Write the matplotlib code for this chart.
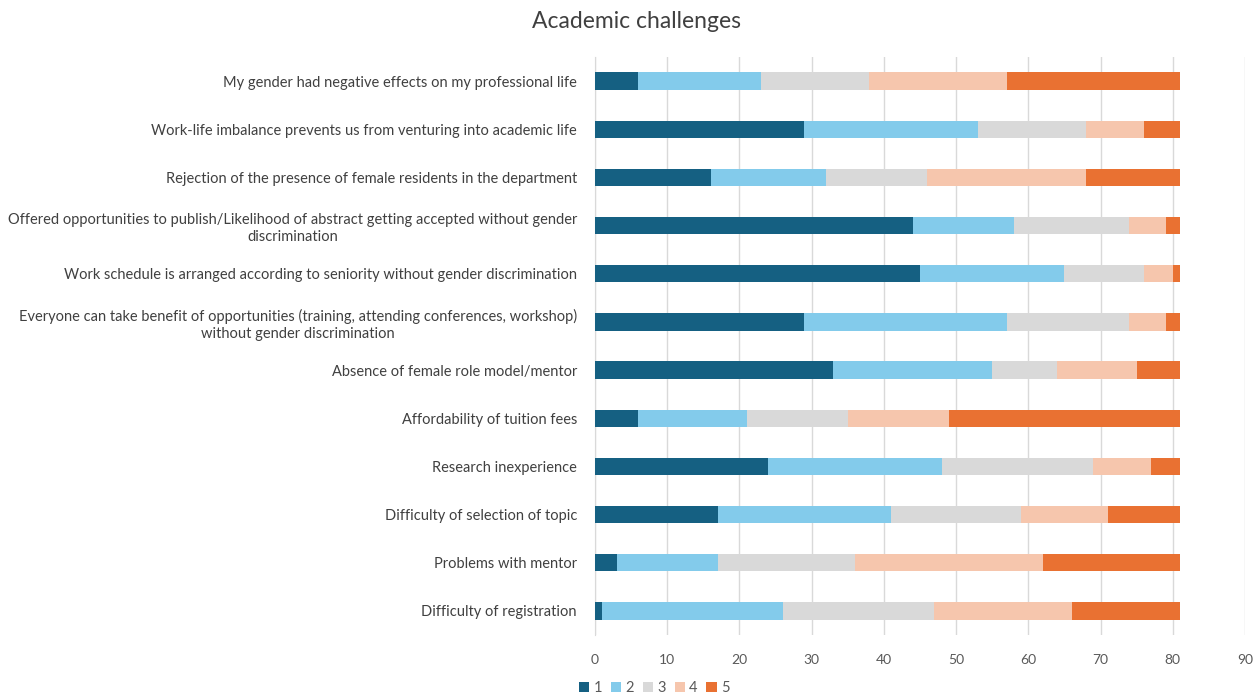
import matplotlib.pyplot as plt
from matplotlib.patches import Patch

plt.rcParams['font.family'] = ['Lato', 'DejaVu Sans']

statements = [
    "My gender had negative effects on my professional life",
    "Work-life imbalance prevents us from venturing into academic life",
    "Rejection of the presence of female residents in the department",
    "Offered opportunities to publish/Likelihood of abstract getting accepted without gender\ndiscrimination",
    "Work schedule is arranged according to seniority without gender discrimination",
    "Everyone can take benefit of opportunities (training, attending conferences, workshop)\nwithout gender discrimination",
    "Absence of female role model/mentor",
    "Affordability of tuition fees",
    "Research inexperience",
    "Difficulty of selection of topic",
    "Problems with mentor",
    "Difficulty of registration",
]

score1 = [6, 29, 16, 44, 45, 29, 33, 6, 24, 17, 3, 1]
score2 = [17, 24, 16, 14, 20, 28, 22, 15, 24, 24, 14, 25]
score3 = [15, 15, 14, 16, 11, 17, 9, 14, 21, 18, 19, 21]
score4 = [19, 8, 22, 5, 4, 5, 11, 14, 8, 12, 26, 19]
score5 = [24, 5, 13, 2, 1, 2, 6, 32, 4, 10, 19, 15]

levels = ["1", "2", "3", "4", "5"]
colors = ["#156082", "#83cbeb", "#d9d9d9", "#f6c6ad", "#e97132"]

fig = plt.figure(figsize=(12.58, 6.95), dpi=100)
ax = fig.add_axes([595 / 1258, 1 - 635 / 695, 650 / 1258, 578 / 695])

ypos = list(range(len(statements)))
left = [0] * len(statements)
for vals, col, lab in zip([score1, score2, score3, score4, score5], colors, levels):
    ax.barh(ypos, vals, left=left, height=0.36, color=col, label=lab, zorder=3)
    left = [l + v for l, v in zip(left, vals)]

ax.set_xlim(0, 90)
ax.set_ylim(len(statements) - 0.5, -0.5)
ax.set_xticks(range(0, 91, 10))
ax.set_yticks(ypos)
ax.set_yticklabels(statements, fontsize=10.5, color="#404040",
                   multialignment="center", linespacing=1.25)
ax.tick_params(axis="y", length=0, pad=13)
ax.tick_params(axis="x", length=0, pad=14, labelsize=10, labelcolor="#595959")
ax.grid(axis="x", color="#d9d9d9", linewidth=1, zorder=0)
for s in ["top", "right", "bottom"]:
    ax.spines[s].set_visible(False)
ax.spines["left"].set_color("#d9d9d9")

fig.text(636 / 1258, 1 - 21 / 695, "Academic challenges", ha="center", va="center",
         fontsize=16.5, color="#404040")

handles = [Patch(facecolor=c, label=l) for c, l in zip(colors, levels)]
fig.legend(handles=handles, loc="center left", bbox_to_anchor=(566 / 1258, 1 - 688 / 695),
           ncol=5, frameon=False, fontsize=10.5, handlelength=0.7, handleheight=0.7,
           handletextpad=0.3, columnspacing=0.6, labelcolor="#595959")

fig.savefig("out.png", dpi=100)
